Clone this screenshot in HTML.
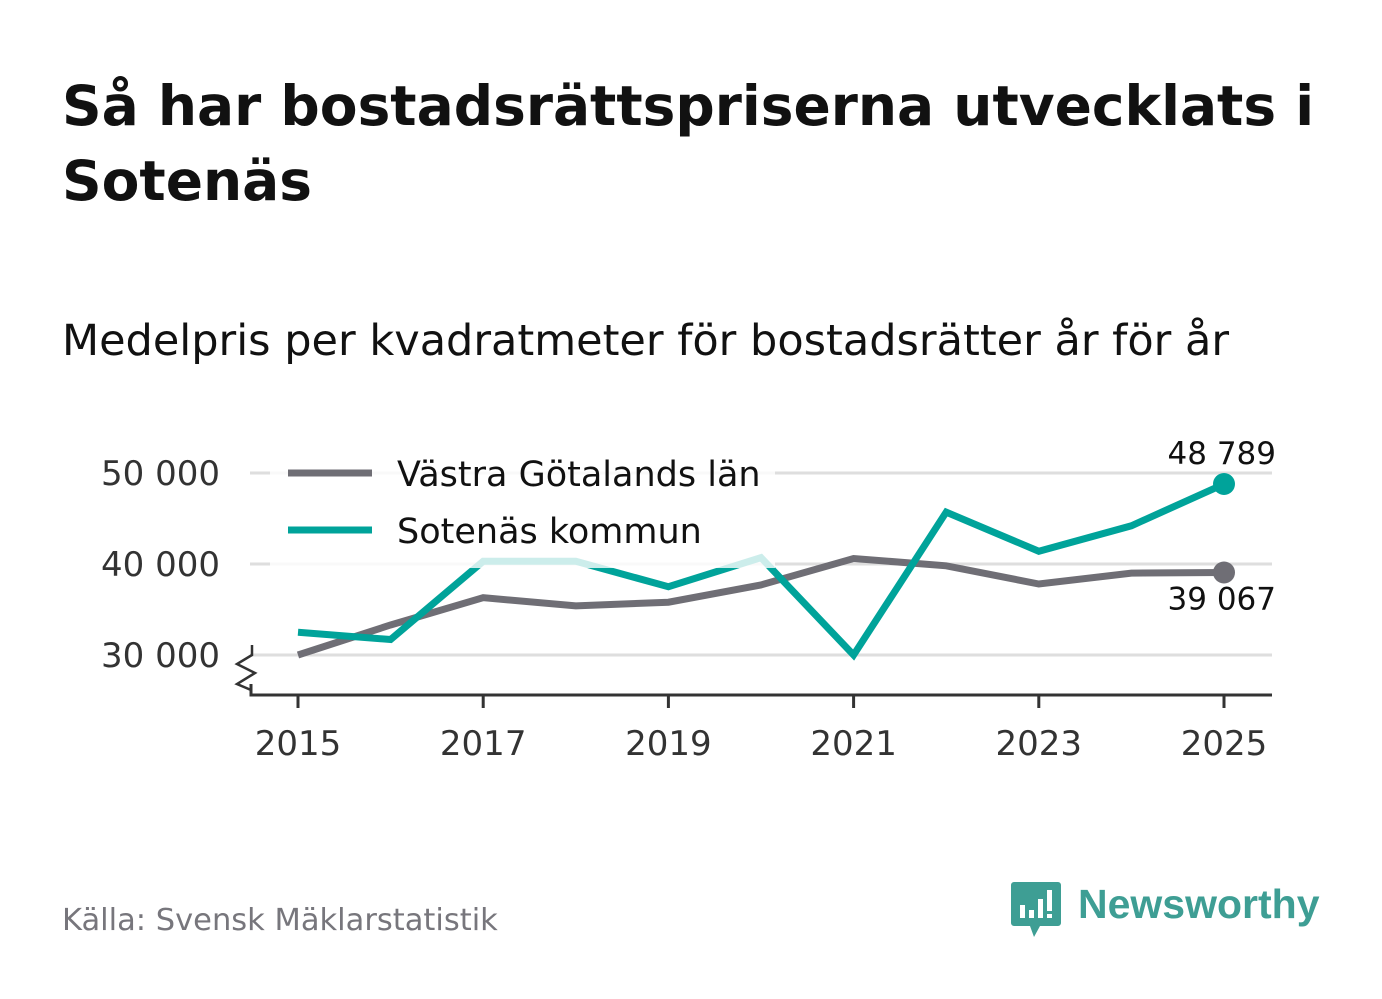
<!DOCTYPE html>
<html><head><meta charset="utf-8"><style>
body{margin:0;background:#fff;width:1382px;height:999px;overflow:hidden;font-family:"DejaVu Sans","Liberation Sans",sans-serif;}
svg{position:absolute;left:0;top:0}
</style></head><body>
<svg width="1382" height="999">
<text x="62" y="125" font-size="55" font-weight="bold" fill="#111">Så har bostadsrättspriserna utvecklats i</text>
<text x="62" y="200" font-size="55" font-weight="bold" fill="#111">Sotenäs</text>
<text x="62" y="355" font-size="43" fill="#111">Medelpris per kvadratmeter för bostadsrätter år för år</text>
<g id="grid"></g>
<g id="lines"></g>
<rect x="270" y="446" width="505" height="122" fill="#fff" fill-opacity="0.8"/>
<g>
<line x1="288" y1="473" x2="372" y2="473" stroke="#6f6e75" stroke-width="7"/>
<text x="397" y="486" font-size="35" fill="#111">Västra Götalands län</text>
<line x1="288" y1="530" x2="372" y2="530" stroke="#00a39a" stroke-width="7"/>
<text x="397" y="543" font-size="35" fill="#111">Sotenäs kommun</text>
</g>
<g id="axes"></g>
<text x="62" y="930" font-size="30.5" fill="#77767c">Källa: Svensk Mäklarstatistik</text>
<g>
<path d="M1014 882 h44 a3 3 0 0 1 3 3 v38 a3 3 0 0 1 -3 3 h-18 l-6 11 l-4 -11 h-16 a3 3 0 0 1 -3 -3 v-38 a3 3 0 0 1 3 -3z" fill="#3e9e94"/>
<rect x="1020" y="905" width="5" height="13" fill="#fff"/><rect x="1029" y="910" width="5" height="8" fill="#fff"/><rect x="1038" y="899" width="5" height="19" fill="#fff"/><rect x="1047" y="890" width="5" height="21" fill="#fff"/><rect x="1047" y="914" width="5" height="4" fill="#fff"/>
<text x="1078" y="918" font-size="41" font-weight="bold" fill="#3e9e94" font-family="Liberation Sans, sans-serif">Newsworthy</text>
</g>
</svg>
<script>
const years=[2015,2016,2017,2018,2019,2020,2021,2022,2023,2024,2025];
const vgl=[30000,33300,36300,35400,35800,37700,40600,39800,37800,39000,39067];
const sotenas=[32500,31700,40300,40300,37500,40700,30000,45700,41400,44200,48789];
const yTicks=[30000,40000,50000];
const xTicks=[2015,2017,2019,2021,2023,2025];
const NS="http://www.w3.org/2000/svg";
const x=v=>298+(v-2015)*92.6;
const y=v=>655-(v-30000)*0.0091;
function mk(t,a,p){const e=document.createElementNS(NS,t);for(const k in a)e.setAttribute(k,a[k]);p.appendChild(e);return e;}
const fmt=v=>String(v).replace(/\B(?=(\d{3})+(?!\d))/g," ");
const grid=document.getElementById('grid'),lines=document.getElementById('lines'),axes=document.getElementById('axes');
yTicks.forEach(v=>{
 const l=mk('line',{x1:250,x2:1272,y1:y(v),y2:y(v),stroke:'#dedede','stroke-width':3},grid);
 
 
 const t=mk('text',{x:220,y:y(v)+12,'font-size':34,fill:'#333','text-anchor':'end'},axes);t.textContent=fmt(v);
 
 
});
const ax=mk('path',{d:'M251 684 V695 H1272',fill:'none',stroke:'#333','stroke-width':3},axes);


const br=mk('path',{d:'M252 645 V655 L237 664 L255 673 L237 684 L251 690',fill:'none',stroke:'#333','stroke-width':2.5},axes);


xTicks.forEach(v=>{
 const l=mk('line',{x1:x(v),x2:x(v),y1:695,y2:708,stroke:'#333','stroke-width':3},axes);
 
 
 const t=mk('text',{x:x(v),y:755,'font-size':34,fill:'#333','text-anchor':'middle'},axes);t.textContent=v;
 
 
});
function series(vals,color,name){
 const p=mk('polyline',{points:vals.map((v,i)=>x(years[i])+','+y(v)).join(' '),fill:'none',stroke:color,'stroke-width':7,'stroke-linejoin':'miter'},lines);
 
 
 const n=vals.length-1;
 const c=mk('circle',{cx:x(years[n]),cy:y(vals[n]),r:11,fill:color},lines);
 
 
}
series(vgl,'#6f6e75','vgl');
series(sotenas,'#00a39a','sotenas');
const lt=mk('text',{x:1276,y:y(sotenas[10])-20,'font-size':31,fill:'#111','text-anchor':'end'},axes);lt.textContent=fmt(sotenas[10]);


const lv=mk('text',{x:1276,y:y(vgl[10])+37,'font-size':31,fill:'#111','text-anchor':'end'},axes);lv.textContent=fmt(vgl[10]);


</script>
</body></html>
